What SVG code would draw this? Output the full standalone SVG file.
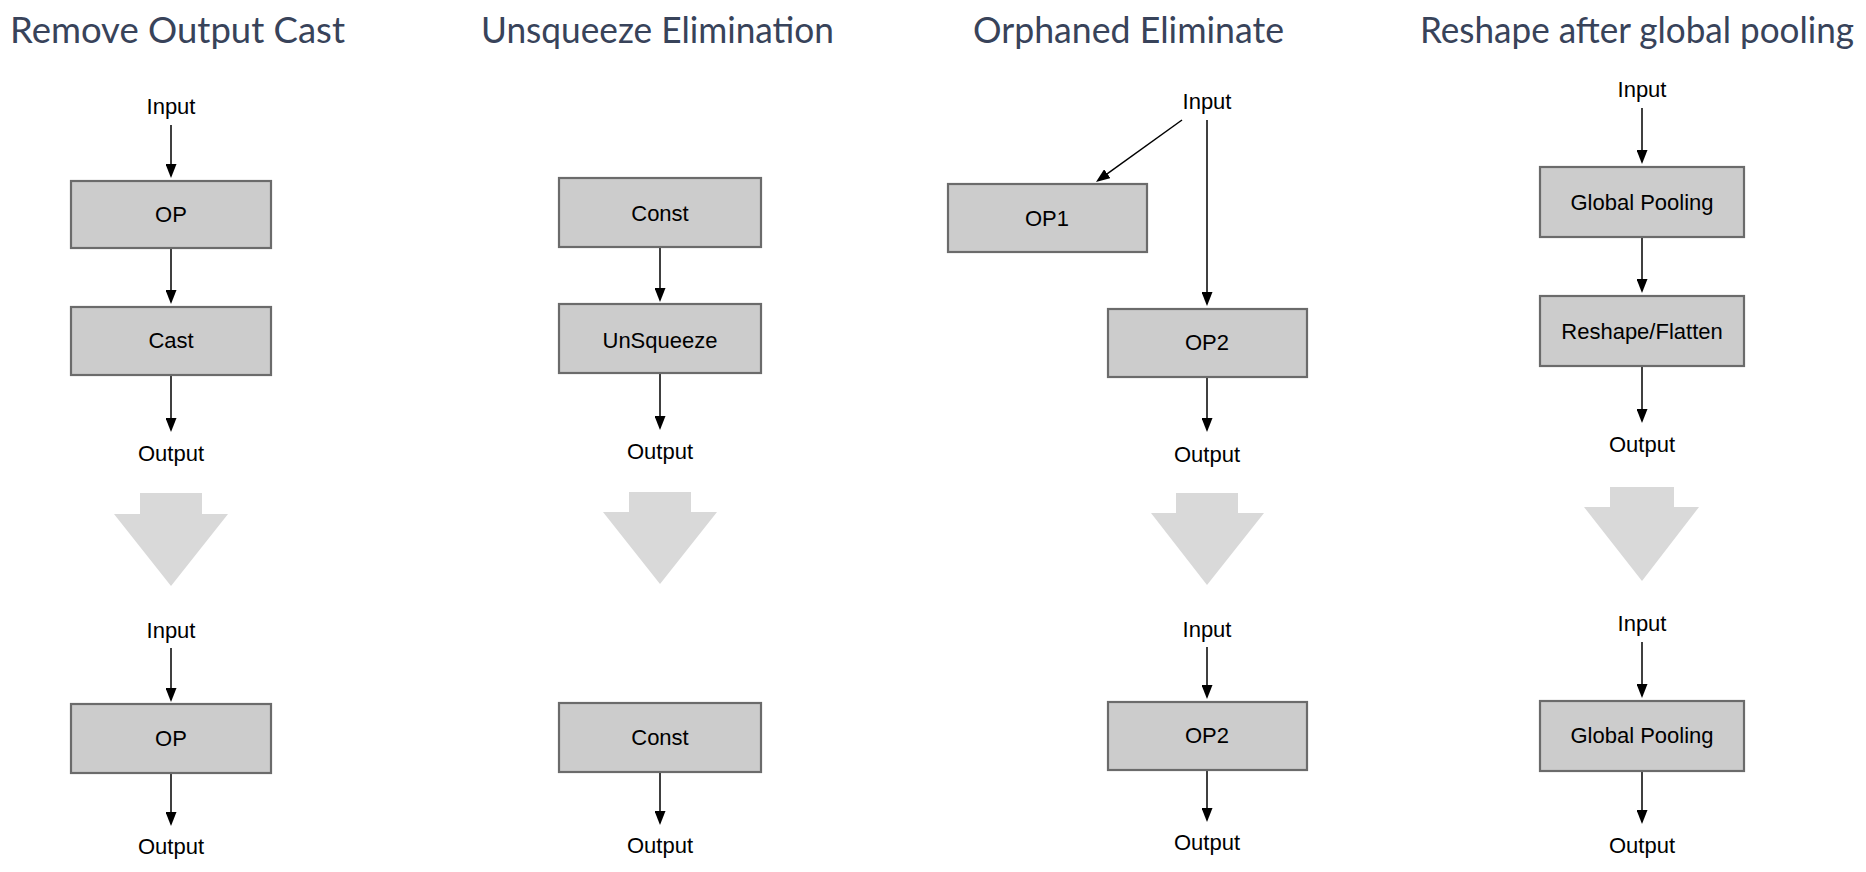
<svg xmlns="http://www.w3.org/2000/svg" width="1866" height="872" viewBox="0 0 1866 872">
<defs>
<style>
.title{font-family:Lato,"Open Sans","Liberation Sans",sans-serif;font-size:37px;fill:#38435a;}
.lbl{font-family:"Liberation Sans",Arial,Helvetica,sans-serif;font-size:22px;fill:#000;text-anchor:middle;}
.box{fill:#cccccc;stroke:#6b6b6b;stroke-width:2.2;}
.edge{stroke:#000;stroke-width:1.5;fill:none;marker-end:url(#ah);}
.big{fill:#d9d9d9;stroke:none;}
</style>
<marker id="ah" viewBox="0 0 14 11" refX="11" refY="5.5" markerWidth="14" markerHeight="11" markerUnits="userSpaceOnUse" orient="auto">
<path d="M0,0 L14,5.5 L0,11 z" fill="#000"/>
</marker>
</defs>
<rect x="0" y="0" width="1866" height="872" fill="#fff"/>

<g id="titles">
<text class="title" x="10" y="43" textLength="335" lengthAdjust="spacingAndGlyphs">Remove Output Cast</text>
<text class="title" x="481" y="43" textLength="353" lengthAdjust="spacingAndGlyphs">Unsqueeze Elimination</text>
<text class="title" x="973" y="43" textLength="311" lengthAdjust="spacingAndGlyphs">Orphaned Eliminate</text>
<text class="title" x="1420" y="43" textLength="434" lengthAdjust="spacingAndGlyphs">Reshape after global pooling</text>
</g>

<g id="connectors">
<!-- panel 1 -->
<line class="edge" x1="171" y1="125" x2="171" y2="175"/>
<line class="edge" x1="171" y1="248" x2="171" y2="301"/>
<line class="edge" x1="171" y1="375" x2="171" y2="429"/>
<line class="edge" x1="171" y1="648" x2="171" y2="699"/>
<line class="edge" x1="171" y1="773" x2="171" y2="823"/>
<!-- panel 2 -->
<line class="edge" x1="660" y1="247" x2="660" y2="299"/>
<line class="edge" x1="660" y1="373" x2="660" y2="427"/>
<line class="edge" x1="660" y1="772" x2="660" y2="822"/>
<!-- panel 3 -->
<line class="edge" x1="1182" y1="120" x2="1098.4" y2="180.2"/>
<line class="edge" x1="1207" y1="120" x2="1207" y2="303"/>
<line class="edge" x1="1207" y1="377" x2="1207" y2="429"/>
<line class="edge" x1="1207" y1="647" x2="1207" y2="696"/>
<line class="edge" x1="1207" y1="770" x2="1207" y2="819"/>
<!-- panel 4 -->
<line class="edge" x1="1642" y1="108" x2="1642" y2="161"/>
<line class="edge" x1="1642" y1="237" x2="1642" y2="290"/>
<line class="edge" x1="1642" y1="366" x2="1642" y2="420"/>
<line class="edge" x1="1642" y1="642" x2="1642" y2="695"/>
<line class="edge" x1="1642" y1="771" x2="1642" y2="821"/>
</g>

<g id="transform-arrows">
<path class="big" d="M140,493 H202 V514 H228 L171,586 L114,514 H140 Z"/>
<path class="big" d="M629,492 H691 V512 H717 L660,584 L603,512 H629 Z"/>
<path class="big" d="M1176,493 H1238 V513 H1264 L1207,585 L1151,513 H1176 Z"/>
<path class="big" d="M1610,487 H1674 V507 H1699 L1642,581 L1584,507 H1610 Z"/>
</g>

<!-- Panel 1: Remove Output Cast -->
<g id="p1-input"><text class="lbl" x="171" y="114">Input</text></g>
<g id="p1-op"><rect class="box" x="71" y="181" width="200" height="67"/><text class="lbl" x="171" y="222">OP</text></g>
<g id="p1-cast"><rect class="box" x="71" y="307" width="200" height="68"/><text class="lbl" x="171" y="348">Cast</text></g>
<g id="p1-output"><text class="lbl" x="171" y="461">Output</text></g>
<g id="p1b-input"><text class="lbl" x="171" y="638">Input</text></g>
<g id="p1b-op"><rect class="box" x="71" y="704" width="200" height="69"/><text class="lbl" x="171" y="746">OP</text></g>
<g id="p1b-output"><text class="lbl" x="171" y="854">Output</text></g>

<!-- Panel 2: Unsqueeze Elimination -->
<g id="p2-const"><rect class="box" x="559" y="178" width="202" height="69"/><text class="lbl" x="660" y="221">Const</text></g>
<g id="p2-unsqueeze"><rect class="box" x="559" y="304" width="202" height="69"/><text class="lbl" x="660" y="348">UnSqueeze</text></g>
<g id="p2-output"><text class="lbl" x="660" y="459">Output</text></g>
<g id="p2b-const"><rect class="box" x="559" y="703" width="202" height="69"/><text class="lbl" x="660" y="745">Const</text></g>
<g id="p2b-output"><text class="lbl" x="660" y="853">Output</text></g>

<!-- Panel 3: Orphaned Eliminate -->
<g id="p3-input"><text class="lbl" x="1207" y="109">Input</text></g>
<g id="p3-op1"><rect class="box" x="948" y="184" width="199" height="68"/><text class="lbl" x="1047" y="226">OP1</text></g>
<g id="p3-op2"><rect class="box" x="1108" y="309" width="199" height="68"/><text class="lbl" x="1207" y="350">OP2</text></g>
<g id="p3-output"><text class="lbl" x="1207" y="462">Output</text></g>
<g id="p3b-input"><text class="lbl" x="1207" y="637">Input</text></g>
<g id="p3b-op2"><rect class="box" x="1108" y="702" width="199" height="68"/><text class="lbl" x="1207" y="743">OP2</text></g>
<g id="p3b-output"><text class="lbl" x="1207" y="850">Output</text></g>

<!-- Panel 4: Reshape after global pooling -->
<g id="p4-input"><text class="lbl" x="1642" y="97">Input</text></g>
<g id="p4-gp"><rect class="box" x="1540" y="167" width="204" height="70"/><text class="lbl" x="1642" y="210">Global Pooling</text></g>
<g id="p4-reshape"><rect class="box" x="1540" y="296" width="204" height="70"/><text class="lbl" x="1642" y="339">Reshape/Flatten</text></g>
<g id="p4-output"><text class="lbl" x="1642" y="452">Output</text></g>
<g id="p4b-input"><text class="lbl" x="1642" y="631">Input</text></g>
<g id="p4b-gp"><rect class="box" x="1540" y="701" width="204" height="70"/><text class="lbl" x="1642" y="743">Global Pooling</text></g>
<g id="p4b-output"><text class="lbl" x="1642" y="853">Output</text></g>
</svg>
